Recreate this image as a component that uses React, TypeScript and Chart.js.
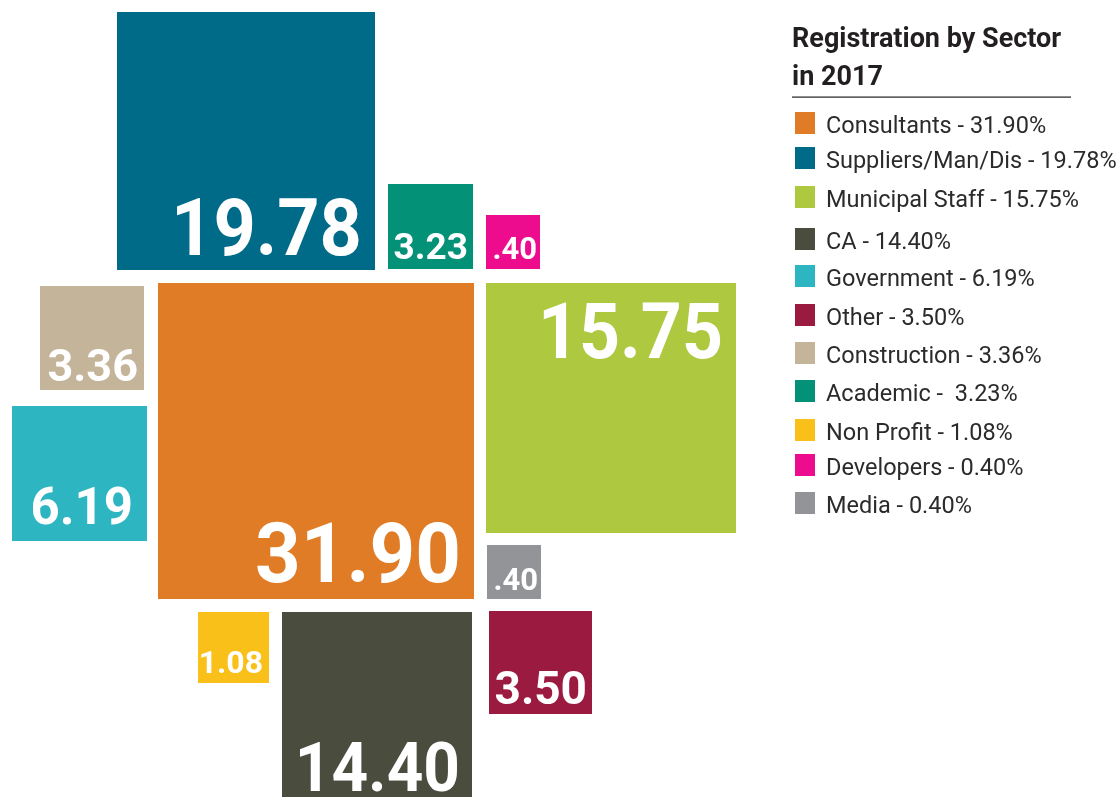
import React, { useEffect, useRef } from 'react';
import { Chart, registerables } from 'chart.js';

Chart.register(...registerables);

const W = 1116;
const H = 797;

// ---- data ----
const sectors = [
  'Consultants',
  'Suppliers/Man/Dis',
  'Municipal Staff',
  'CA',
  'Government',
  'Other',
  'Construction',
  'Academic',
  'Non Profit',
  'Developers',
  'Media',
];
const shares = [31.9, 19.78, 15.75, 14.4, 6.19, 3.5, 3.36, 3.23, 1.08, 0.4, 0.4];
const legendLabels = [
  'Consultants - 31.90%',
  'Suppliers/Man/Dis - 19.78%',
  'Municipal Staff - 15.75%',
  'CA - 14.40%',
  'Government - 6.19%',
  'Other - 3.50%',
  'Construction - 3.36%',
  'Academic -  3.23%',
  'Non Profit - 1.08%',
  'Developers - 0.40%',
  'Media - 0.40%',
];
const titleLines = ['Registration by Sector', 'in 2017'];

// ---- styles ----
const colors = [
  '#E07C25',
  '#006A89',
  '#AEC940',
  '#4A4C3D',
  '#2DB5C1',
  '#9B1A3F',
  '#C3B49A',
  '#039278',
  '#F8C018',
  '#EC0C8D',
  '#939498',
];

// ---- layout (infographic placement, in canvas units) ----
const squareLeft = [158, 117, 486, 282, 12, 489, 40, 388, 198, 486, 487];
const squareTop = [283, 12, 283, 612, 406, 611, 286, 184, 612, 215, 545];
const squareSide = [316, 258, 250, 190, 135, 103, 104, 85, 71, 54, 54];
const labelSize = [83, 79, 77, 68, 52, 46, 45, 37, 32, 31, 31];
const labelScaleX = [0.96, 0.935, 0.93, 0.94, 0.98, 1, 1, 1, 1, 1, 1];
const labelPadRight = [13, 13, 13, 12, 14, 5, 6, 5, 6, 3, 3];
const labelPadV = [17, 15, 20, 11, 17, 10, 9, 10, 10, 10, 9];
const labelAnchor = ['bottom', 'bottom', 'top', 'bottom', 'bottom', 'bottom', 'bottom', 'bottom', 'bottom', 'bottom', 'bottom'];
const legendRowY = [123, 158, 197, 239, 276, 315, 353, 391, 430, 465, 503];

const NUM_FONT = "Roboto, 'Open Sans', 'DejaVu Sans', sans-serif";

function shortLabel(v: number): string {
  const s = v.toFixed(2);
  return s.startsWith('0') ? s.slice(1) : s;
}

const squareLabels = {
  id: 'squareLabels',
  afterDatasetsDraw(chart: any) {
    const ctx = chart.ctx as CanvasRenderingContext2D;
    const meta = chart.getDatasetMeta(0);
    meta.data.forEach((el: any, i: number) => {
      const half = squareSide[i] / 2;
      const size = labelSize[i];
      const right = el.x + half - labelPadRight[i];
      const y =
        labelAnchor[i] === 'top'
          ? el.y - half + labelPadV[i] + size * 0.711
          : el.y + half - labelPadV[i];
      ctx.save();
      ctx.fillStyle = '#ffffff';
      ctx.textAlign = 'right';
      ctx.textBaseline = 'alphabetic';
      ctx.font = `700 ${size}px ${NUM_FONT}`;
      ctx.translate(right, y);
      ctx.scale(labelScaleX[i], 1);
      ctx.fillText(shortLabel(shares[i]), 0, 0);
      ctx.restore();
    });
  },
};

const sideLegend = {
  id: 'sideLegend',
  afterDraw(chart: any) {
    const ctx = chart.ctx as CanvasRenderingContext2D;
    ctx.save();
    // title
    ctx.fillStyle = '#231F20';
    ctx.textAlign = 'left';
    ctx.textBaseline = 'alphabetic';
    ctx.font = `700 27px ${NUM_FONT}`;
    ctx.fillText(titleLines[0], 792, 47);
    ctx.fillText(titleLines[1], 792, 85);
    // rule
    ctx.fillStyle = '#231F20';
    ctx.fillRect(792, 96.5, 279, 1.2);
    // rows
    ctx.font = `400 23.5px ${NUM_FONT}`;
    legendLabels.forEach((label, i) => {
      const cy = legendRowY[i];
      ctx.fillStyle = colors[i];
      ctx.fillRect(795, cy - 11, 20, 22);
      ctx.fillStyle = '#2B2B2B';
      ctx.fillText(label, 826, cy + 9.5);
    });
    ctx.restore();
  },
};

export default function App() {
  const canvasRef = useRef<HTMLCanvasElement | null>(null);

  useEffect(() => {
    document.body.style.margin = '0';
    const canvas = canvasRef.current;
    if (!canvas) return;
    const points = shares.map((_, i) => ({
      x: squareLeft[i] + squareSide[i] / 2,
      y: squareTop[i] + squareSide[i] / 2,
    }));
    const chart = new Chart(canvas, {
      type: 'scatter',
      data: {
        labels: sectors,
        datasets: [
          {
            label: 'Registration by Sector in 2017',
            data: points,
            pointStyle: 'rect',
            pointRadius: squareSide.map((s) => s / Math.SQRT2),
            pointHoverRadius: squareSide.map((s) => s / Math.SQRT2),
            pointBackgroundColor: colors,
            pointBorderWidth: 0,
            pointHoverBorderWidth: 0,
            clip: false,
          } as any,
        ],
      },
      options: {
        animation: false,
        responsive: false,
        events: [],
        layout: { padding: 0, autoPadding: false },
        scales: {
          x: { type: 'linear', min: 0, max: W, display: false },
          y: { type: 'linear', min: 0, max: H, reverse: true, display: false },
        },
        plugins: {
          legend: { display: false },
          tooltip: { enabled: false },
        },
      },
      plugins: [squareLabels, sideLegend],
    });
    return () => chart.destroy();
  }, []);

  return (
    <div style={{ width: W, height: H, background: '#ffffff' }}>
      <canvas ref={canvasRef} width={W} height={H} style={{ display: 'block' }} />
    </div>
  );
}
